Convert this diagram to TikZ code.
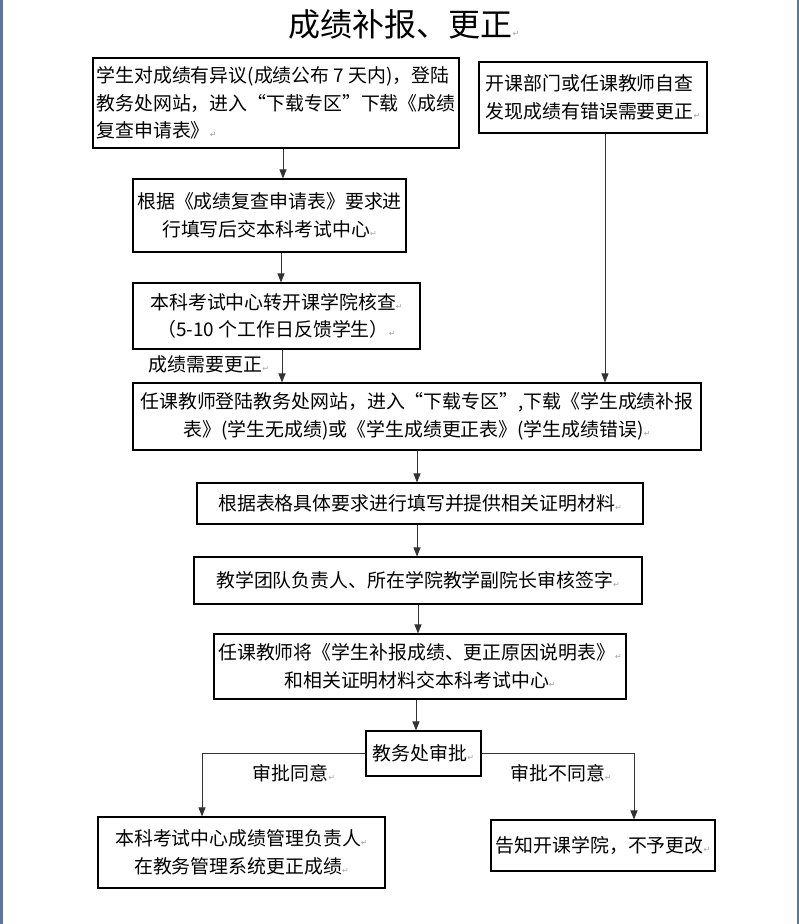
\documentclass[tikz,border=0pt]{standalone}
\usepackage{fontspec}
\setmainfont{Noto Sans CJK SC}
\newfontfamily\symf{DejaVu Sans}
\usetikzlibrary{arrows.meta,calc}
\definecolor{edgeblue}{HTML}{5E759F}
\newcommand{\rmk}{{\symf\fontsize{8}{8}\selectfont\textcolor{black!35}{↵}}}
\begin{document}
\begin{tikzpicture}[x=1pt,y=-1pt,
 box/.style={draw=black,line width=1.1pt,inner sep=0pt,align=center,font=\fontsize{18.9}{27.5}\selectfont},
 arr/.style={draw=black!80,line width=0.9pt,-{Triangle[length=9pt,width=7pt]}},
 lbl/.style={inner sep=0pt,font=\fontsize{18.9}{27.5}\selectfont}]
\useasboundingbox (0,0) rectangle (799,924);
\fill[white] (0,0) rectangle (799,924);
\fill[edgeblue] (0,0) rectangle (3,924);
\fill[edgeblue] (796.5,0) rectangle (799,924);

\node[lbl,font=\fontsize{32}{32}\selectfont] (title) at (404,24) {成绩补报、更正\rmk};

\node[box,align=left,minimum width=366,minimum height=90] (b1) at (276,103)
 {学生对成绩有异议(成绩公布 7 天内)，登陆\\教务处网站，进入“下载专区”下载《成绩\\复查申请表》\rmk};
\node[box,minimum width=273,minimum height=73] (b2) at (269.5,215.5)
 {根据《成绩复查申请表》要求进\\行填写后交本科考试中心\rmk};
\node[box,minimum width=287,minimum height=66] (b3) at (276.5,316)
 {本科考试中心转开课学院核查\rmk\\（5-10 个工作日反馈学生）\rmk};
\node[box,align=left,minimum width=228,minimum height=71] (b4) at (593,97.5)
 {开课部门或任课教师自查\\发现成绩有错误需要更正\rmk};
\node[box,minimum width=568,minimum height=67] (b5) at (417,416.5)
 {任课教师登陆教务处网站，进入“下载专区”,下载《学生成绩补报\\表》(学生无成绩)或《学生成绩更正表》(学生成绩错误)\rmk};
\node[box,minimum width=446,minimum height=41] (b6) at (420,503.5)
 {根据表格具体要求进行填写并提供相关证明材料\rmk};
\node[box,minimum width=448,minimum height=47] (b7) at (418,580.5)
 {教学团队负责人、所在学院教学副院长审核签字\rmk};
\node[box,minimum width=412,minimum height=65] (b8) at (420,666.5)
 {任课教师将《学生补报成绩、更正原因说明表》\rmk\\和相关证明材料交本科考试中心\rmk};
\node[box,minimum width=115,minimum height=45] (b9) at (423.5,753.5)
 {教务处审批\rmk};
\node[box,minimum width=287,minimum height=71] (b10) at (241.5,852.5)
 {本科考试中心成绩管理负责人\rmk\\在教务管理系统更正成绩\rmk};
\node[box,minimum width=224,minimum height=51] (b11) at (603,845.5)
 {告知开课学院，不予更改\rmk};

\node[lbl] (l1) at (209,364) {成绩需要更正\rmk};
\node[lbl] (l2) at (294,773) {审批同意\rmk};
\node[lbl] (l3) at (561,773) {审批不同意\rmk};

\coordinate (c1) at ($(b1.south)+(7,0)$);
\draw[arr] (c1) -- (c1 |- b2.north);
\coordinate (c2) at ($(b2.south)+(11.5,0)$);
\draw[arr] (c2) -- (c2 |- b3.north);
\coordinate (c3) at ($(b3.south)+(5.5,0)$);
\draw[arr] (c3) -- (c3 |- b5.north);
\coordinate (c4) at ($(b4.south)+(12,0)$);
\draw[arr] (c4) -- (c4 |- b5.north);
\draw[arr] (b5.south) -- (b5.south |- b6.north);
\coordinate (c6) at ($(b6.south)+(-3,0)$);
\draw[arr] (c6) -- (c6 |- b7.north);
\draw[arr] (b7.south) -- (b7.south |- b8.north);
\coordinate (c8) at ($(b8.south)+(-4,0)$);
\draw[arr] (c8) -- (c8 |- b9.north);
\coordinate (cl) at ($(b10.north)+(-39.5,0)$);
\draw[arr] (b9.west) -| (cl);
\coordinate (cr) at ($(b11.north)+(31,0)$);
\draw[arr] (b9.east) -| (cr);
\end{tikzpicture}
\end{document}
